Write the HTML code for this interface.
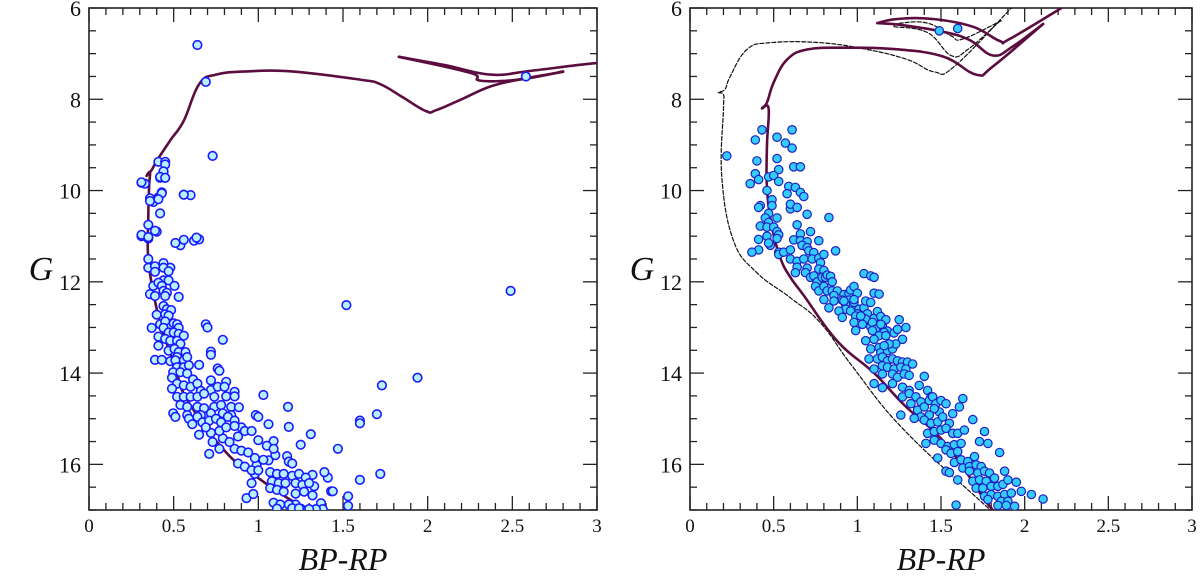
<!DOCTYPE html>
<html><head><meta charset="utf-8">
<style>
html,body{margin:0;padding:0;background:#fff;}
svg{display:block;font-family:"Liberation Serif",serif;}
</style></head>
<body>
<svg id="chart" width="1200" height="581" viewBox="0 0 1200 581" xmlns="http://www.w3.org/2000/svg">
<defs>
<clipPath id="clipL"><rect x="89" y="8" width="508" height="502"/></clipPath>
<clipPath id="clipR"><rect x="690" y="8" width="503" height="502"/></clipPath>
</defs>
<g id="left"></g>
<g id="right"></g>
</svg>
<script>
// ---- data: left panel stars [BP-RP, G] ----
const leftStarsBP = [0.64,0.69,0.73,0.41,0.45,0.45,0.44,0.42,0.45,0.31,0.43,0.56,0.41,0.36,0.33,0.31,0.35,0.38,0.40,0.60,0.62,0.54,0.65,
0.44,0.42,0.45,0.31,0.56,0.43,0.41,0.36,0.42,0.35,0.39,0.31,0.35,0.51,0.56,0.635,0.35,0.35,0.39,0.44,0.48,0.44,0.47,0.39,0.44,0.47,0.38,0.41,0.43,0.505,0.36,0.39,0.44,0.46,0.45,0.53,
0.44,0.46,0.485,0.40,0.45,0.47,0.42,0.45,0.48,0.50,0.52,0.53,0.37,0.44,0.47,0.50,0.53,0.56,0.41,0.45,0.48,0.52,0.54,0.41,0.47,0.505,0.53,0.57,0.52,0.56,0.58,0.39,0.43,0.48,0.51,0.52,0.56,0.59,0.65,0.69,0.79,0.72,0.76,0.77,0.497,0.54,0.58,0.615,0.49,0.52,0.49,0.56,0.60,0.64,0.72,0.81,0.66,0.72,0.76,0.80,0.86,0.52,0.56,0.60,0.64,0.68,0.74,0.81,0.86,0.54,0.58,0.64,0.68,0.74,0.78,0.84,0.885,1.03,1.175,0.497,0.58,0.66,0.72,0.79,0.84,0.985,1.52,
0.51,0.59,0.64,0.67,0.71,0.75,0.78,0.82,0.86,0.90,1.0,1.06,1.18,1.31,1.25,1.47,1.6,1.72,1.6,1.53,1.53,1.43,1.44,1.41,1.39,1.32,1.33,1.32,1.37,1.38,1.34,1.30,1.25,1.22,1.17,1.18,1.2,1.09,1.1,1.06,0.99,0.98,0.96,0.93,0.97,1.07,1.11,1.15,1.2,1.24,1.28,1.08,1.12,1.16,1.22,1.26,1.3,1.07,1.11,1.15,1.22,1.27,1.09,1.13,1.18,1.11,1.2,1.24,0.71,0.77,0.86,0.9,0.94,0.98,1.03,0.88,0.92,0.96,1.0,0.79,0.83,0.88,0.92,0.96,1.0,1.05,1.09,0.72,0.77,0.81,0.86,0.65,0.61,0.69,0.73,
1.94,1.73,1.70,1.60,2.49,2.58,0.70,0.72];
const leftStarsG = [6.81,7.62,9.24,9.37,9.37,9.43,9.59,9.72,9.72,9.83,10.04,10.09,10.15,10.17,9.85,11.0,11.05,10.25,10.9,10.1,11.1,11.2,11.07,
9.58,9.7,9.72,9.82,10.09,10.06,10.19,10.23,10.5,10.75,10.88,10.97,11.02,11.15,11.08,11.03,11.5,11.69,11.66,11.59,11.69,11.69,11.77,11.78,11.97,11.97,12.09,12.02,12.09,12.09,12.27,12.31,12.2,12.24,12.31,12.33,
12.53,12.6,12.62,12.72,12.71,12.74,12.93,12.87,13.0,12.91,12.93,13.01,13.01,13.01,13.11,13.11,13.14,13.18,13.2,13.25,13.29,13.29,13.36,13.4,13.51,13.47,13.54,13.54,13.65,13.72,13.65,13.71,13.71,13.74,13.72,13.87,13.87,13.83,13.82,12.93,13.27,13.53,13.9,13.95,13.98,13.98,14.01,14.14,14.1,14.23,14.34,14.27,14.3,14.23,14.16,14.19,14.39,14.37,14.3,14.3,14.41,14.52,14.52,14.52,14.52,14.45,14.52,14.51,14.51,14.7,14.74,14.74,14.77,14.74,14.7,14.74,14.75,14.48,14.74,14.88,14.92,14.92,14.88,14.88,14.92,14.92,12.51,
14.96,15.0,14.96,15.08,15.04,15.0,15.08,14.96,15.04,15.19,14.96,15.12,15.18,15.34,15.57,15.66,15.04,16.21,16.34,16.7,16.91,16.59,16.59,16.29,16.17,16.23,16.48,16.68,16.85,16.98,16.98,16.98,16.97,16.88,15.82,15.94,15.98,15.49,15.8,15.91,16.02,16.21,16.41,16.74,16.65,16.17,16.21,16.21,16.25,16.21,16.29,16.37,16.41,16.41,16.41,16.45,16.41,16.52,16.56,16.6,16.64,16.6,16.84,16.88,16.88,16.97,16.96,16.96,15.77,15.66,15.66,15.7,15.74,15.86,15.9,15.98,16.05,16.13,16.13,15.43,15.51,15.39,15.27,15.27,15.47,15.59,15.66,15.31,15.27,15.19,15.16,15.35,15.12,15.19,15.51,
14.1,14.27,14.9,15.1,12.2,7.5,13.0,13.6];

// ---- data: right panel stars [BP-RP, G] ----
const rightStarsBP = [1.49,1.60,
0.43,0.52,0.61,0.39,0.57,0.61,0.22,0.40,0.52,0.53,0.62,0.66,0.39,0.41,0.47,0.50,0.53,0.36,0.46,0.59,0.63,0.66,0.68,0.58,0.49,0.49,0.42,0.41,0.60,0.64,0.60,0.64,0.47,0.52,0.70,0.83,0.45,0.47,0.42,0.46,0.50,0.52,0.53,0.64,0.72,0.66,0.41,0.46,0.48,0.47,0.52,0.62,0.66,0.70,0.77,0.67,0.70,0.41,0.37,0.53,0.53,0.56,0.60,0.71,0.74,0.87,0.60,0.64,0.68,0.73,0.77,0.80,0.78,0.64,0.70,0.63,0.77,0.80,0.69,0.72,0.74,0.76,0.75,0.77,0.79,0.81,0.82,0.84,0.85,0.80,0.82,0.85,0.88,0.86,0.92,0.95,0.96,0.98,1.00,0.91,0.95,0.93,0.93,1.04,1.08,1.10,1.10,1.13,0.98,1.01,1.04,1.06,1.00,1.03,1.05,1.10,1.12,1.14,1.17,1.25,1.29,1.08,1.12,1.15,1.18,1.22,
0.80,0.86,0.92,0.98,1.05,1.08,0.83,0.89,0.91,0.96,0.99,1.02,0.98,1.03,0.99,1.05,1.09,1.11,1.14,1.16,1.09,1.13,1.10,1.17,1.24,1.27,
1.08,1.13,1.14,1.18,1.21,1.23,1.19,1.16,1.07,1.12,1.15,1.18,1.21,1.24,1.27,1.30,1.33,1.10,1.15,1.18,1.22,1.26,1.29,1.15,1.21,1.24,1.28,1.31,1.10,1.15,1.21,1.27,1.31,1.37,1.40,1.42,1.44,
1.27,1.31,1.35,1.38,1.32,1.36,1.40,1.43,1.45,1.47,1.50,1.53,1.49,1.46,1.43,1.38,1.34,1.26,
1.40,1.44,1.48,1.51,1.55,1.57,1.61,1.63,1.42,1.46,1.50,1.53,1.57,1.60,1.64,1.41,1.46,1.50,1.54,1.58,1.62,1.48,1.53,1.56,1.60,1.69,1.76,1.73,1.78,1.85,
1.58,1.62,1.66,1.70,1.63,1.67,1.71,1.74,1.53,1.55,1.60,1.67,1.72,1.76,1.79,1.69,1.73,1.77,1.82,1.88,1.71,1.75,1.80,1.84,1.87,1.90,1.95,1.76,1.80,1.84,1.88,1.92,1.98,2.04,2.11,1.78,1.86,1.90,1.94,1.84,1.89,1.59];
const rightStarsG = [6.50,6.45,
8.67,8.83,8.67,8.89,8.96,9.07,9.24,9.35,9.30,9.54,9.48,9.48,9.63,9.76,9.70,9.67,9.80,9.85,10.0,9.91,9.93,10.04,10.13,10.07,10.2,10.33,10.33,10.37,10.4,10.37,10.3,10.37,10.5,10.6,10.52,10.59,10.6,10.7,10.78,10.8,10.8,10.9,10.97,10.75,10.9,10.95,11.07,11.0,11.2,11.15,11.05,11.08,11.1,11.12,11.1,11.2,11.25,11.3,11.35,11.35,11.4,11.35,11.3,11.32,11.36,11.32,11.5,11.55,11.5,11.5,11.48,11.4,11.58,11.68,11.7,11.8,11.72,11.75,11.8,11.9,11.87,12.0,12.1,12.2,11.9,11.9,11.85,11.88,12.0,12.1,12.2,12.2,12.2,12.3,12.28,12.25,12.18,12.1,12.25,12.4,12.4,12.5,12.6,11.82,11.87,11.9,12.25,12.27,12.45,12.6,12.57,12.7,12.7,12.78,12.82,12.8,12.65,12.76,12.83,12.83,13.0,12.98,13.0,12.97,13.08,13.12,
12.39,12.42,12.42,12.39,12.42,12.45,12.57,12.64,12.78,12.64,12.75,12.75,12.89,12.93,13.07,13.29,12.89,13.04,12.93,13.11,13.07,13.18,13.26,13.18,13.04,13.26,
13.47,13.44,13.55,13.51,13.47,13.36,13.36,13.4,13.69,13.69,13.65,13.73,13.69,13.73,13.76,13.76,13.8,13.91,13.84,13.87,13.91,13.87,13.91,14.02,14.02,14.09,14.02,14.05,14.23,14.32,14.23,14.31,14.38,14.27,14.07,14.38,14.52,
14.52,14.45,14.52,14.63,14.67,14.81,14.74,14.6,14.52,14.67,14.6,14.67,14.85,14.78,14.92,14.96,14.99,14.92,
15.03,15.1,15.07,14.96,15.1,14.89,14.74,14.56,15.32,15.28,15.25,15.21,15.32,15.32,15.25,15.54,15.47,15.54,15.61,15.57,15.54,15.86,15.68,15.76,15.72,15.02,15.28,15.5,15.54,15.74,
15.96,15.9,15.94,15.83,16.08,16.05,16.01,16.05,16.15,16.18,16.34,16.15,16.19,16.15,16.19,16.37,16.34,16.37,16.3,16.15,16.52,16.52,16.48,16.48,16.44,16.34,16.39,16.7,16.66,16.7,16.66,16.63,16.59,16.66,16.76,16.77,16.81,16.81,16.92,16.9,16.9,16.89];

// ---- isochrones (model tracks) ----
const leftIsoMainBP = [1.32,1.2,1.0,0.81,0.58,0.51,0.44,0.39,0.35,0.35,0.355,0.36,0.34,0.37,0.40,0.48,0.56,0.65,0.75,0.93,1.2,1.6,1.72,1.85,1.99,2.05,2.2,2.37,2.55,2.8];
const leftIsoMainG  = [17.0,16.8,16.3,15.74,14.59,13.87,13.14,12.42,11.5,10.6,9.9,9.6,9.68,9.55,9.35,8.9,8.47,7.67,7.46,7.39,7.39,7.57,7.67,7.95,8.26,8.24,8.0,7.72,7.56,7.4];
const leftIsoAgbABP = [1.83,2.1,2.37,2.6,2.96,3.1];
const leftIsoAgbAG  = [7.07,7.25,7.46,7.38,7.22,7.2];
const leftIsoAgbBBP = [1.83,2.25,2.31,2.54,2.8];
const leftIsoAgbBG  = [7.07,7.42,7.59,7.57,7.39];

const rightSolid1BP = [1.95,1.81,1.54,1.28,1.1,0.88,0.68,0.6,0.54,0.49,0.46,0.46,0.47,0.43,0.46,0.5,0.58,0.70,0.92,1.22,1.51,1.71,1.81,2.11];
const rightSolid1G  = [17.2,17.0,15.6,14.7,14.0,13.3,12.3,11.9,11.48,10.8,9.96,9.0,8.2,8.2,8.07,7.63,7.13,6.91,6.87,6.9,7.06,7.46,7.28,6.35];
const rightSolid2BP = [1.12,1.26,1.51,1.67,1.81,1.93,2.11];
const rightSolid2G  = [6.33,6.37,6.52,6.7,7.04,6.84,6.35];
const rightSolid3BP = [1.12,1.24,1.45,1.69,1.85,1.91,2.22];
const rightSolid3G  = [6.33,6.24,6.24,6.41,6.72,6.68,6.0];
const rightDash1BP = [1.86,1.78,1.28,0.98,0.78,0.6,0.4,0.26,0.19,0.2,0.2,0.17,0.21,0.24,0.34,0.48,0.78,1.06,1.3,1.46,1.58,1.92];
const rightDash1G  = [17.2,16.95,15.25,13.9,12.9,12.35,11.8,11.1,9.7,8.2,7.9,7.85,7.78,7.5,6.91,6.76,6.76,6.91,7.13,7.4,7.28,6.0];
const rightDash2BP = [1.22,1.42,1.56,1.66,1.86];
const rightDash2G  = [6.41,6.54,7.04,6.91,6.26];
const rightDash3BP = [1.22,1.26,1.42,1.56,1.63,1.86];
const rightDash3G  = [6.39,6.33,6.33,6.61,6.68,6.28];

const xTickLabels = ["0","0.5","1","1.5","2","2.5","3"];
const yTickLabels = ["6","8","10","12","14","16"];

const NS = "http://www.w3.org/2000/svg";
function mk(tag, attrs, parent){const e=document.createElementNS(NS,tag);for(const k in attrs)e.setAttribute(k,attrs[k]);parent.appendChild(e);return e;}

function makePanel(g, x0, x1, clipId, prefix){
  const top=8,bot=510;
  const sx = v => x0 + v*(x1-x0)/3;
  const sy = v => top + (v-6)*(bot-top)/11;
  return {g,x0,x1,top,bot,sx,sy,clipId,prefix};
}

function drawAxes(p){
  const {g,x0,x1,top,bot,sx,sy}=p;
  const frame = mk('rect',{x:x0,y:top,width:x1-x0,height:bot-top,fill:'none',stroke:'#222','stroke-width':1.6},g);
  
  
  for(let i=0;i<=30;i++){
    const v=i/10, x=sx(v), major=(i%5===0), L=major?14:7;
    mk('line',{x1:x,y1:bot,x2:x,y2:bot-L,stroke:'#222','stroke-width':1.3},g);
    mk('line',{x1:x,y1:top,x2:x,y2:top+L,stroke:'#222','stroke-width':1.3},g);
  }
  xTickLabels.forEach((t,i)=>{
    const tx=mk('text',{x:sx(i*0.5),y:532,'font-size':19,'text-anchor':'middle',fill:'#111'},g);
    tx.textContent=t;
    
    
  });
  for(let i=0;i<=22;i++){
    const v=6+i/2, y=sy(v), major=(i%4===0), L=major?14:7;
    mk('line',{x1:x0,y1:y,x2:x0+L,y2:y,stroke:'#222','stroke-width':1.3},g);
    mk('line',{x1:x1,y1:y,x2:x1-L,y2:y,stroke:'#222','stroke-width':1.3},g);
  }
  yTickLabels.forEach((t)=>{
    const v=+t;
    const ty=mk('text',{x:x0-8,y:sy(v)+8,'font-size':22,'text-anchor':'end',fill:'#111'},g);
    ty.textContent=t;
    
    
  });
  const xt=mk('text',{x:(x0+x1)/2,y:570,'font-size':32,'font-style':'italic','text-anchor':'middle',fill:'#111'},g);
  xt.textContent='BP-RP';
  
  
  const yt=mk('text',{x:x0-48,y:280,'font-size':34,'font-style':'italic','text-anchor':'middle',fill:'#111'},g);
  yt.textContent='G';
  
  
}

// smooth path through points (Catmull-Rom -> cubic Bezier)
function smoothPath(pts){
  let d='M'+pts[0][0].toFixed(1)+' '+pts[0][1].toFixed(1);
  const t=0.2;
  for(let i=0;i<pts.length-1;i++){
    const p0=pts[i-1]||pts[i], p1=pts[i], p2=pts[i+1], p3=pts[i+2]||p2;
    const c1=[p1[0]+(p2[0]-p0[0])*t, p1[1]+(p2[1]-p0[1])*t];
    const c2=[p2[0]-(p3[0]-p1[0])*t, p2[1]-(p3[1]-p1[1])*t];
    d+=' C'+c1[0].toFixed(1)+' '+c1[1].toFixed(1)+' '+c2[0].toFixed(1)+' '+c2[1].toFixed(1)+' '+p2[0].toFixed(1)+' '+p2[1].toFixed(1);
  }
  return d;
}

function drawLine(p, bp, gv, style, name){
  const pts = bp.map((b,i)=>[p.sx(b), p.sy(gv[i])]);
  const path = mk('path',Object.assign({d:smoothPath(pts),fill:'none','clip-path':'url(#'+p.clipId+')','stroke-linejoin':'round','stroke-linecap':'round'},style),p.g);
  
  
}

function drawStars(p, bp, gv, fill, stroke, sw, r, name){
  const grp = mk('g',{'clip-path':'url(#'+p.clipId+')'},p.g);
  
  
  bp.forEach((b,i)=>{
    const c=mk('circle',{cx:p.sx(b).toFixed(1),cy:p.sy(gv[i]).toFixed(1),r,fill,stroke,'stroke-width':sw},grp);
    
    
  });
}

const solid={stroke:'#5c0d3f','stroke-width':2.6};
const dashed={stroke:'#111','stroke-width':1.2,'stroke-dasharray':'4 2'};

const L = makePanel(document.getElementById('left'), 89, 597, 'clipL', 'left');
drawAxes(L);
drawLine(L, leftIsoMainBP, leftIsoMainG, solid, 'isochrone-main');
drawLine(L, leftIsoAgbABP, leftIsoAgbAG, solid, 'isochrone-branch-a');
drawLine(L, leftIsoAgbBBP, leftIsoAgbBG, solid, 'isochrone-branch-b');
drawStars(L, leftStarsBP, leftStarsG, '#b8f0ff', '#1a1aff', 1.6, 4.3, 'left-stars');

const R = makePanel(document.getElementById('right'), 690, 1192, 'clipR', 'right');
drawAxes(R);
drawLine(R, rightDash1BP, rightDash1G, dashed, 'isochrone-dashed-main');
drawLine(R, rightDash2BP, rightDash2G, dashed, 'isochrone-dashed-b');
drawLine(R, rightDash3BP, rightDash3G, dashed, 'isochrone-dashed-c');
drawLine(R, rightSolid1BP, rightSolid1G, solid, 'isochrone-solid-main');
drawLine(R, rightSolid2BP, rightSolid2G, solid, 'isochrone-solid-b');
drawLine(R, rightSolid3BP, rightSolid3G, solid, 'isochrone-solid-c');
drawStars(R, rightStarsBP, rightStarsG, '#33ccff', '#2020c0', 1.2, 4.2, 'right-stars');
</script>
</body></html>
